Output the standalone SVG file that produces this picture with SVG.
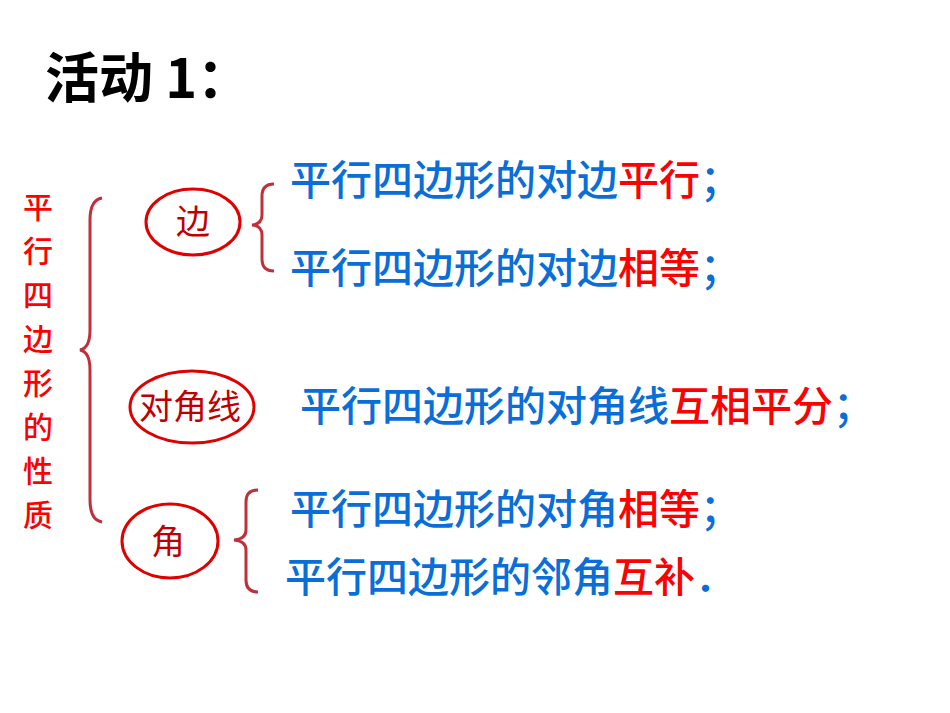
<svg xmlns="http://www.w3.org/2000/svg" width="950" height="713" viewBox="0 0 950 713">
<style>
text{font-family:"Noto Sans CJK SC","Liberation Sans",sans-serif}
.b{fill:#0A6ED8;font-size:41px;font-weight:500}
.r{fill:#FF0000}
.v{fill:#FF0000;font-size:30px;font-weight:500}
.e{fill:none;stroke:#E00000;stroke-width:3}
.br{fill:none;stroke:#C0303A;stroke-width:3}
.n{fill:#C00000;font-size:34px;font-family:"Noto Sans CJK SC",serif}
</style>
<rect width="950" height="713" fill="#fff"/>
<text x="45" y="98" font-size="54" font-weight="bold" fill="#000">活动 1：</text>
<g id="title-vertical">
<text class="v" x="23" y="218">平</text><text class="v" x="23" y="262">行</text><text class="v" x="23" y="306">四</text><text class="v" x="23" y="350">边</text><text class="v" x="23" y="394">形</text><text class="v" x="23" y="438">的</text><text class="v" x="23" y="482">性</text><text class="v" x="23" y="526">质</text>
</g>
<g id="connectors">
<path class="br" d="M102,198 Q90,200 90,220 L90,330 Q90,348 80,350 Q90,352 90,370 L90,500 Q90,520 102,522"/>
<path class="br" d="M274,184 Q262,184 262,196 L262,215 Q262,224 252,225 Q262,226 262,235 L262,259 Q262,271 274,271"/>
<path class="br" d="M258,490 Q246,490 246,502 L246,530 Q246,539 234,540 Q246,541 246,550 L246,580 Q246,592 258,592"/>
</g>
<g id="n-bian"><ellipse class="e" cx="193" cy="222" rx="47" ry="33"/><text class="n" x="193" y="234" text-anchor="middle">边</text></g>
<g id="n-dui"><ellipse class="e" cx="192" cy="407" rx="62" ry="36"/><text class="n" x="190" y="419" text-anchor="middle" font-size="33">对角线</text></g>
<g id="n-jiao"><ellipse class="e" cx="170" cy="541" rx="48" ry="37"/><text class="n" x="168" y="554" text-anchor="middle">角</text></g>
<g id="t1"><text class="b" x="290" y="195">平行四边形的对边<tspan class="r">平行</tspan>；</text></g>
<g id="t2"><text class="b" x="290" y="283">平行四边形的对边<tspan class="r">相等</tspan>；</text></g>
<g id="t3"><text class="b" x="300" y="421">平行四边形的对角线<tspan class="r">互相平分</tspan>；</text></g>
<g id="t4"><text class="b" x="290" y="524">平行四边形的对角<tspan class="r">相等</tspan>；</text></g>
<g id="t5"><text class="b" x="285" y="592">平行四边形的邻角<tspan class="r">互补</tspan>．</text></g>
</svg>
